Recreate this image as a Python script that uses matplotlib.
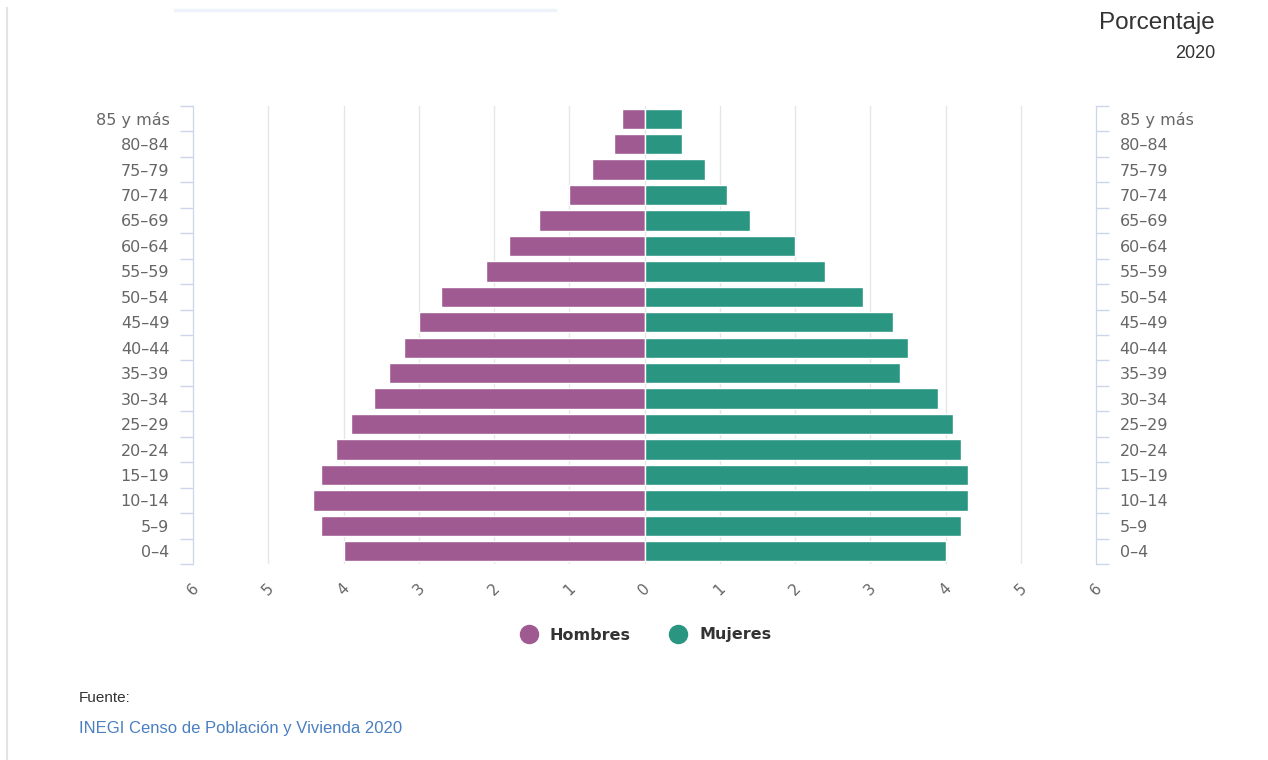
import numpy as np
import matplotlib.pyplot as plt
from matplotlib.lines import Line2D

grupos = ["0\u20134", "5\u20139", "10\u201314", "15\u201319", "20\u201324", "25\u201329",
          "30\u201334", "35\u201339", "40\u201344", "45\u201349", "50\u201354",
          "55\u201359", "60\u201364", "65\u201369", "70\u201374", "75\u201379",
          "80\u201384", "85 y más"]
hombres = [4.0, 4.3, 4.4, 4.3, 4.1, 3.9, 3.6, 3.4, 3.2, 3.0, 2.7, 2.1, 1.8,
           1.4, 1.0, 0.7, 0.4, 0.3]
mujeres = [4.0, 4.2, 4.3, 4.3, 4.2, 4.1, 3.9, 3.4, 3.5, 3.3, 2.9, 2.4, 2.0,
           1.4, 1.1, 0.8, 0.5, 0.5]
xticks = [-6, -5, -4, -3, -2, -1, 0, 1, 2, 3, 4, 5, 6]

c_h = "#a05a92"
c_m = "#2a9682"
axis_col = "#ccd6eb"
lbl_col = "#666666"

fig = plt.figure(figsize=(12.68, 7.6), dpi=100)
ax = fig.add_axes([193/1268, 1-564/760, (1096-193)/1268, (564-106)/760])

y = np.arange(len(grupos))
ax.barh(y, -np.array(hombres), height=0.8, color=c_h, edgecolor="white", linewidth=1, zorder=3)
ax.barh(y, mujeres, height=0.8, color=c_m, edgecolor="white", linewidth=1, zorder=3)

ax.set_xlim(-6, 6)
ax.set_ylim(-0.5, len(grupos) - 0.5)
ax.set_xticks(xticks)
ax.set_xticklabels([str(abs(v)) for v in xticks], rotation=45, ha="center",
                   va="top", color=lbl_col, fontsize=11)
ax.tick_params(axis="x", length=0, pad=12)
for v in xticks[1:-1]:
    ax.axvline(v, color="#e6e6e6", lw=1, zorder=1)

ax.set_yticks(y)
ax.set_yticklabels(grupos, color=lbl_col, fontsize=11.5)
ax.set_yticks(np.arange(len(grupos) + 1) - 0.5, minor=True)
ax.tick_params(axis="y", which="major", length=0, pad=17)
ax.tick_params(axis="y", which="minor", length=9.5, color=axis_col, width=1,
               left=True, right=True)

ax2 = ax.twinx()
ax2.set_ylim(ax.get_ylim())
ax2.set_yticks(y)
ax2.set_yticklabels(grupos, color=lbl_col, fontsize=11.5)
ax2.set_yticks(np.arange(len(grupos) + 1) - 0.5, minor=True)
ax2.tick_params(axis="y", which="major", length=0, pad=17)
ax2.tick_params(axis="y", which="minor", length=9.5, color=axis_col, width=1)

for a in (ax, ax2):
    for s in ("top", "bottom"):
        a.spines[s].set_visible(False)
    a.spines["left"].set_color(axis_col)
    a.spines["right"].set_color(axis_col)

handles = [Line2D([], [], marker="o", ls="", color=c_h, markersize=13),
           Line2D([], [], marker="o", ls="", color=c_m, markersize=13)]
fig.legend(handles, ["Hombres", "Mujeres"], loc="center", bbox_to_anchor=(642/1268, 1-635/760),
           ncol=2, frameon=False, prop={"weight": "bold", "size": 11.5},
           handletextpad=0.3, columnspacing=2.0, labelcolor="#333333")

fig.text(1215/1268, 1-23/760, "Porcentaje", ha="right", va="center",
         fontsize=17.5, color="#333333", family="Liberation Sans")
fig.text(1215/1268, 1-54/760, "2020", ha="right", va="center",
         fontsize=13, color="#333333", family="Liberation Sans")
fig.text(79/1268, 1-698/760, "Fuente:", ha="left", va="center",
         fontsize=11, color="#333333", family="Liberation Sans")
fig.text(79/1268, 1-729/760, "INEGI Censo de Población y Vivienda 2020", ha="left",
         va="center", fontsize=12, color="#4a7fc1", family="Liberation Sans")

# bordes de la pagina
fig.add_artist(Line2D([7/1268, 7/1268], [0, 1-8/760], color="#e3e3e3", lw=1.5))
fig.add_artist(Line2D([175/1268, 555/1268], [1-10/760, 1-10/760], color="#eef3fb", lw=2.5))

fig.savefig("out.png", dpi=100)
